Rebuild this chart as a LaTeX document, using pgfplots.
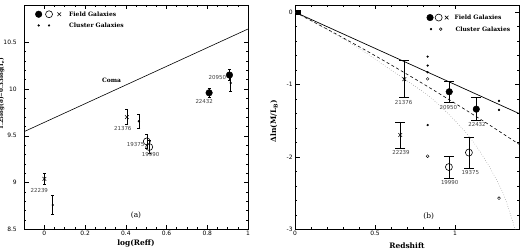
\documentclass[border=0pt]{standalone}
\usepackage{pgfplots}
\pgfplotsset{compat=1.18}
\usepackage{fontspec}
\setmainfont{DejaVu Serif}
\setsansfont{DejaVu Sans}

\tikzset{
  idlab/.style={font=\sffamily\fontsize{5.5}{6}\selectfont, text=black!75, inner sep=0pt},
  legtxt/.style={font=\bfseries\fontsize{6}{7}\selectfont, anchor=west, inner sep=0pt},
}
\pgfplotsset{
  panel/.style={
    scale only axis, width=224bp, height=224.4bp,
    anchor=south west,
    axis line style={line width=0.7pt},
    every tick/.style={black, line width=0.5pt},
    major tick length=4.5bp, minor tick length=2.3bp,
    tick align=inside,
    tick label style={font=\sffamily\fontsize{6}{7}\selectfont, /pgf/number format/assume math mode=true},
    xticklabel style={anchor=north, inner sep=0pt, yshift=-1.8bp},
    clip=true,
  },
  bigfill/.style={only marks, mark=*, mark size=3.3bp, black},
  bigopen/.style={only marks, mark=o, mark size=3.5bp, black, mark options={line width=0.6pt}},
  bigx/.style={only marks, mark=x, mark size=2.6bp, black, mark options={line width=0.6pt}},
  cldot/.style={only marks, mark=*, mark size=0.9bp, black},
  clopen/.style={only marks, mark=o, mark size=1.4bp, black, mark options={line width=0.45pt}},
  ebars/.style={error bars/.cd, y dir=both, y explicit,
    error bar style={line width=0.5pt, black},
    error mark options={black, line width=0.5pt, rotate=90, mark size=#1}},
  ebars/.default=1.5bp,
}

\begin{document}
\begin{tikzpicture}
\useasboundingbox (0bp,0bp) rectangle (522bp,251bp);

% ---------------- (a) fundamental plane projection ----------------
\begin{axis}[panel, at={(24bp,21.7bp)},
  xmin=-0.1, xmax=1, ymin=8.5, ymax=10.9,
  xtick={0,0.2,0.4,0.6,0.8,1}, minor x tick num=3,
  ytick={8.5,9,9.5,10,10.5}, minor y tick num=4,
  yticklabel style={anchor=east, inner sep=0pt, xshift=-7bp},
  xlabel={log(Reff)},
  ylabel={1.25log(σ)−0.33log(I$_{\mathbf{e}}$)},
  every axis x label/.style={at={([yshift=-14bp]axis description cs:0.5,0)}, anchor=center,
    font=\bfseries\fontsize{7.5}{9}\selectfont},
  every axis y label/.style={at={([xshift=-22.3bp]axis description cs:0,0.603)}, anchor=center, rotate=90,
    font=\bfseries\fontsize{5.6}{7}\selectfont},
]
% Coma relation
\addplot[black, line width=0.6pt] coordinates {(-0.1,9.544) (1,10.642)};

% field galaxies
\addplot[bigx, ebars] coordinates {(0.0,9.04) +- (0,0.06)  (0.405,9.70) +- (0,0.08)};
\addplot[bigopen, ebars] coordinates {(0.503,9.44) +- (0,0.075)  (0.515,9.38) +- (0,0.07)};
\addplot[bigfill, ebars] coordinates {(0.809,9.96) +- (0,0.045)  (0.909,10.15) +- (0,0.06)};

% cluster galaxies
\addplot[cldot, ebars] coordinates {(0.041,8.76) +- (0,0.10)  (0.464,9.655) +- (0,0.075)  (0.915,10.065) +- (0,0.09)};

% legend symbols
\addplot[bigfill] coordinates {(-0.028,10.80)};
\addplot[bigopen] coordinates {(0.023,10.80)};
\addplot[bigx] coordinates {(0.073,10.80)};
\addplot[cldot] coordinates {(-0.028,10.68) (0.023,10.68)};
\node[legtxt] at (axis cs:0.121,10.80) {Field Galaxies};
\node[legtxt] at (axis cs:0.121,10.68) {Cluster Galaxies};

% identifiers
\node[idlab] at (axis cs:-0.025,8.92) {22239};
\node[idlab] at (axis cs:0.385,9.58) {21376};
\node[idlab] at (axis cs:0.448,9.41) {19375};
\node[idlab] at (axis cs:0.522,9.295) {19990};
\node[idlab] at (axis cs:0.785,9.865) {22432};
\node[idlab] at (axis cs:0.850,10.121) {20950};

\node[font=\bfseries\fontsize{6}{7}\selectfont] at (axis cs:0.33,10.09) {Coma};
\node[font=\fontsize{7.5}{9}\selectfont] at (axis cs:0.45,8.653) {(a)};
\end{axis}

% ---------------- (b) mass-to-light evolution ----------------
\begin{axis}[panel, at={(295bp,21.7bp)},
  xmin=0, xmax=1.4, ymin=-3, ymax=0.1,
  xtick={0,0.5,1}, minor x tick num=4,
  ytick={-3,-2,-1,0}, minor y tick num=4,
  yticklabel style={anchor=east, inner sep=0pt, xshift=-2.2bp},
  xlabel={Redshift},
  ylabel={Δln(M/L$_{\mathbf{B}}$)},
  every axis x label/.style={at={([yshift=-16.5bp]axis description cs:0.5,0)}, anchor=center,
    font=\bfseries\fontsize{7.5}{9}\selectfont},
  every axis y label/.style={at={([xshift=-21bp, yshift=-4bp]axis description cs:0,0.5)}, anchor=center, rotate=90,
    font=\bfseries\fontsize{7.5}{9}\selectfont},
]
% model tracks
\addplot[black, line width=0.7pt] coordinates {(0,0) (1.4,-1.4)};
\addplot[black, line width=0.6pt, dash pattern=on 3bp off 2.5bp, smooth] coordinates {
  (0,0) (0.2,-0.234) (0.4,-0.476) (0.6,-0.728) (0.8,-0.989) (1.0,-1.259) (1.2,-1.537) (1.4,-1.825)};
\addplot[black!60, line width=0.45pt, dotted, smooth] coordinates {
  (0,0) (0.2,-0.24) (0.4,-0.50) (0.6,-0.80) (0.8,-1.10) (0.9,-1.28) (1.0,-1.50)
  (1.1,-1.75) (1.2,-2.08) (1.3,-2.50) (1.37,-2.96) (1.39,-3.12)};

% local reference
\addplot[only marks, mark=square*, mark size=1.8bp, black] coordinates {(0.02,0)};

% field galaxies
\addplot[bigx, ebars=5bp] coordinates {(0.683,-0.926) +- (0,0.255)  (0.658,-1.697) +- (0,0.18)};
\addplot[bigfill, ebars=5bp] coordinates {(0.964,-1.10) +- (0,0.15)  (1.133,-1.34) +- (0,0.16)};
\addplot[bigopen, ebars=5bp] coordinates {(0.962,-2.14) +- (0,0.155)  (1.087,-1.94) +- (0,0.21)};

% cluster galaxies
\addplot[cldot] coordinates {(0.829,-0.614) (0.829,-0.738) (0.829,-0.83) (0.829,-1.56)
  (1.275,-1.226) (1.275,-1.35)};
\addplot[clopen] coordinates {(0.829,-0.922) (0.829,-1.99) (1.275,-2.57)};

% legend symbols
\addplot[bigfill] coordinates {(0.844,-0.075)};
\addplot[bigopen] coordinates {(0.898,-0.075)};
\addplot[bigx] coordinates {(0.948,-0.075)};
\addplot[cldot] coordinates {(0.85,-0.235)};
\addplot[clopen] coordinates {(0.911,-0.235)};
\node[legtxt] at (axis cs:0.996,-0.075) {Field Galaxies};
\node[legtxt] at (axis cs:1.002,-0.235) {Cluster Galaxies};

% identifiers
\node[idlab] at (axis cs:0.679,-1.244) {21376};
\node[idlab] at (axis cs:0.6625,-1.941) {22239};
\node[idlab] at (axis cs:0.958,-1.313) {20950};
\node[idlab] at (axis cs:1.1375,-1.554) {22432};
\node[idlab] at (axis cs:0.967,-2.356) {19990};
\node[idlab] at (axis cs:1.096,-2.218) {19375};

\node[font=\fontsize{7.5}{9}\selectfont] at (axis cs:0.836,-2.826) {(b)};
\end{axis}
\end{tikzpicture}
\end{document}
